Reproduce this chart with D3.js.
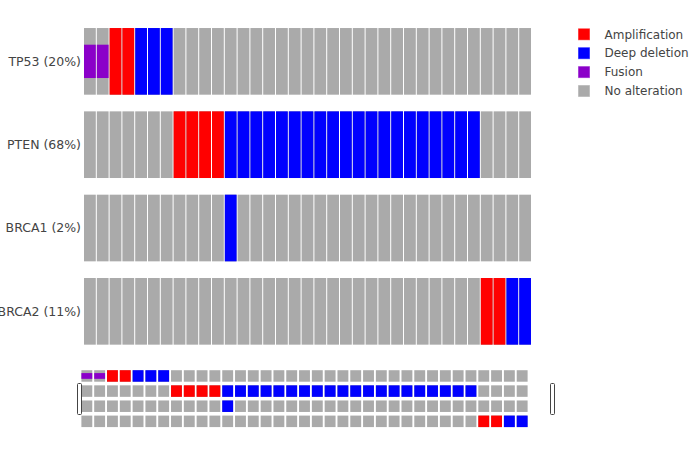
<!DOCTYPE html>
<html>
<head>
<meta charset="utf-8">
<script src="https://cdn.jsdelivr.net/npm/d3@7"></script>
<style>
  html, body { margin: 0; padding: 0; background: #fff; }
  svg { display: block; font-family: "DejaVu Sans", Verdana, sans-serif; }
</style>
</head>
<body>
<svg id="chart" width="700" height="450"></svg>
<script>
// ---- data ----
const genes = ["TP53", "PTEN", "BRCA1", "BRCA2"];
const nSamples = 35;
const sampleIds = d3.range(nSamples).map(i => "S" + (i + 1));
// alterations per gene: [sample index, type]
const tp53Alterations = [[0, "Fusion"], [1, "Fusion"], [2, "Amplification"], [3, "Amplification"],
  [4, "Deep deletion"], [5, "Deep deletion"], [6, "Deep deletion"]];
const ptenAlterations = [[7, "Amplification"], [8, "Amplification"], [9, "Amplification"], [10, "Amplification"],
  [11, "Deep deletion"], [12, "Deep deletion"], [13, "Deep deletion"], [14, "Deep deletion"], [15, "Deep deletion"],
  [16, "Deep deletion"], [17, "Deep deletion"], [18, "Deep deletion"], [19, "Deep deletion"], [20, "Deep deletion"],
  [21, "Deep deletion"], [22, "Deep deletion"], [23, "Deep deletion"], [24, "Deep deletion"], [25, "Deep deletion"],
  [26, "Deep deletion"], [27, "Deep deletion"], [28, "Deep deletion"], [29, "Deep deletion"], [30, "Deep deletion"]];
const brca1Alterations = [[11, "Deep deletion"]];
const brca2Alterations = [[31, "Amplification"], [32, "Amplification"], [33, "Deep deletion"], [34, "Deep deletion"]];
const legendLabels = ["Amplification", "Deep deletion", "Fusion", "No alteration"];
const legendColors = ["#ff0000", "#0000ff", "#8b00c9", "#aaaaaa"];

// ---- build ----
const altByGene = { TP53: tp53Alterations, PTEN: ptenAlterations, BRCA1: brca1Alterations, BRCA2: brca2Alterations };
const color = d3.scaleOrdinal().domain(legendLabels).range(legendColors);
const cells = [];
genes.forEach(g => sampleIds.forEach(s => cells.push({ gene: g, sample: s })));
const alts = [];
genes.forEach(g => altByGene[g].forEach(([i, t]) => alts.push({ gene: g, sample: sampleIds[i], type: t })));
const pct = g => Math.floor(100 * new Set(altByGene[g].map(a => a[0])).size / nSamples);

const svg = d3.select("#chart");

// main panel
const x = d3.scaleBand().domain(sampleIds).range([83.5, 531.5]).paddingInner(0.08).paddingOuter(0.04);
const y = d3.scaleBand().domain(genes).range([19.7, 353]).paddingInner(0.2).paddingOuter(0.1);

const main = svg.append("g");
main.selectAll("rect.bg").data(cells).join("rect")
  .attr("x", d => x(d.sample)).attr("width", x.bandwidth())
  .attr("y", d => y(d.gene)).attr("height", y.bandwidth())
  .attr("fill", color("No alteration"));
main.selectAll("rect.alt").data(alts).join("rect")
  .attr("x", d => x(d.sample)).attr("width", x.bandwidth())
  .attr("y", d => d.type === "Fusion" ? y(d.gene) + y.bandwidth() * 0.25 : y(d.gene))
  .attr("height", d => d.type === "Fusion" ? y.bandwidth() * 0.5 : y.bandwidth())
  .attr("fill", d => color(d.type));

// gene labels
svg.append("g").selectAll("text").data(genes).join("text")
  .attr("x", 81).attr("y", d => y(d) + y.bandwidth() / 2)
  .attr("dy", "0.35em").attr("text-anchor", "end")
  .attr("font-size", 12.5).attr("fill", "#444")
  .text(d => `${d} (${pct(d)}%)`);

// range slider mini-map
const xm = d3.scaleBand().domain(sampleIds).range([80.5, 528.5]).paddingInner(0.15).paddingOuter(0.07);
const ym = d3.scaleBand().domain(genes).range([368.4, 428.9]).paddingInner(0.24).paddingOuter(0.12);
const mini = svg.append("g");
mini.selectAll("rect.bg").data(cells).join("rect")
  .attr("x", d => xm(d.sample)).attr("width", xm.bandwidth())
  .attr("y", d => ym(d.gene)).attr("height", ym.bandwidth())
  .attr("fill", color("No alteration"));
mini.selectAll("rect.alt").data(alts).join("rect")
  .attr("x", d => xm(d.sample)).attr("width", xm.bandwidth())
  .attr("y", d => d.type === "Fusion" ? ym(d.gene) + ym.bandwidth() * 0.25 : ym(d.gene))
  .attr("height", d => d.type === "Fusion" ? ym.bandwidth() * 0.5 : ym.bandwidth())
  .attr("fill", d => color(d.type));

// slider handles
const handleX = [xm.range()[0] - 3, xm.range()[1] + 22];
svg.append("g").selectAll("rect").data(handleX).join("rect")
  .attr("x", d => d).attr("y", 383.5).attr("width", 4).attr("height", 31)
  .attr("rx", 1).attr("fill", "#fff").attr("stroke", "#444").attr("stroke-width", 1);

// legend
const lg = svg.append("g").attr("transform", "translate(578,0)");
const li = lg.selectAll("g").data(legendLabels).join("g")
  .attr("transform", (d, i) => `translate(0,${34.3 + i * 18.9})`);
li.append("rect").attr("x", 0.5).attr("y", -5.5).attr("width", 11).attr("height", 11)
  .attr("fill", d => color(d)).attr("stroke", d => color(d)).attr("stroke-opacity", 0.5).attr("stroke-width", 1);
li.append("text").attr("x", 26.5).attr("dy", "0.35em")
  .attr("font-size", 12).attr("fill", "#444").text(d => d);
</script>
</body>
</html>
